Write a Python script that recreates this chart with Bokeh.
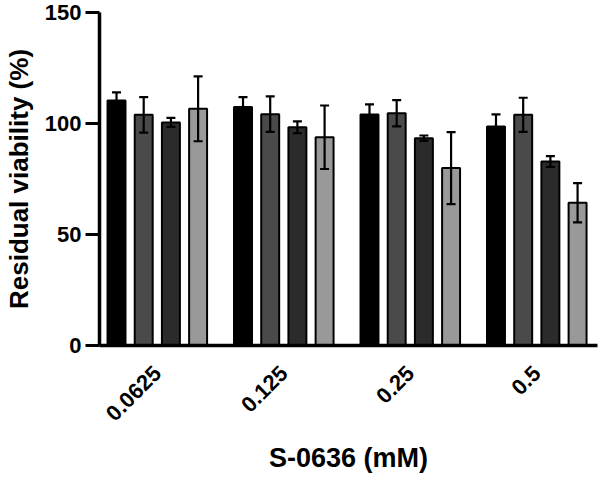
import math
from bokeh.plotting import figure
from bokeh.models import Range1d, ColumnDataSource, Whisker, TeeHead, FixedTicker
from bokeh.embed import file_html
from bokeh.resources import INLINE

categories = ["0.0625", "0.125", "0.25", "0.5"]
series_names = ["s1", "s2", "s3", "s4"]
means = [
    [110.4, 107.4, 104.1, 98.6],
    [103.9, 104.2, 104.6, 103.9],
    [100.5, 98.3, 93.4, 82.9],
    [106.6, 93.8, 79.9, 64.3],
]
errors = [
    [3.6, 4.5, 4.5, 5.5],
    [8.0, 8.0, 5.9, 7.7],
    [2.0, 2.7, 1.2, 2.4],
    [14.6, 14.3, 16.2, 8.8],
]
colors = ["#000000", "#4a4a4a", "#2b2b2b", "#999999"]
y_ticks = [0, 50, 100, 150]

FONT = "Liberation Sans"

p = figure(width=600, height=479, output_backend="svg", toolbar_location=None,
           x_range=Range1d(-0.457, 3.48), y_range=Range1d(0, 150),
           min_border_left=97, min_border_right=3, min_border_top=12, min_border_bottom=134)
p.outline_line_color = None
p.grid.grid_line_color = None
p.background_fill_color = "white"
p.border_fill_color = "white"

step = 0.215
width = 0.142
for j in range(4):
    xs = [i + (j - 1.5) * step for i in range(len(categories))]
    ys = means[j]
    errs = errors[j]
    src = ColumnDataSource(dict(x=xs, top=ys,
                                upper=[y + e for y, e in zip(ys, errs)],
                                lower=[y - e for y, e in zip(ys, errs)]))
    p.vbar(x="x", top="top", bottom=0, width=width, source=src,
           fill_color=colors[j], line_color="black", line_width=2)
    w = Whisker(base="x", upper="upper", lower="lower", source=src, level="overlay",
                line_color="black", line_width=2.2,
                upper_head=TeeHead(size=9, line_width=2.2, line_color="black"),
                lower_head=TeeHead(size=9, line_width=2.2, line_color="black"))
    p.add_layout(w)

# axes
p.xaxis.ticker = FixedTicker(ticks=list(range(len(categories))))
p.xaxis.major_label_overrides = {i: c for i, c in enumerate(categories)}
p.xaxis.major_label_orientation = math.pi / 4
p.xaxis.major_tick_line_color = None
p.xaxis.minor_tick_line_color = None
p.xaxis.axis_line_width = 3.5
p.xaxis.axis_line_color = "black"
p.xaxis.major_label_text_font = FONT
p.xaxis.major_label_text_font_style = "bold"
p.xaxis.major_label_text_font_size = "22px"
p.xaxis.major_label_text_color = "black"
p.xaxis.major_label_standoff = 18
p.xaxis.axis_label = "S-0636 (mM)"
p.xaxis.axis_label_text_font = FONT
p.xaxis.axis_label_text_font_style = "bold"
p.xaxis.axis_label_text_font_size = "27px"
p.xaxis.axis_label_text_color = "black"
p.xaxis.axis_label_standoff = 12

p.yaxis.ticker = FixedTicker(ticks=y_ticks)
p.yaxis.major_tick_out = 14
p.yaxis.major_tick_in = 0
p.yaxis.major_tick_line_width = 3
p.yaxis.minor_tick_line_color = None
p.yaxis.axis_line_width = 3.5
p.yaxis.axis_line_color = "black"
p.yaxis.major_label_text_font = FONT
p.yaxis.major_label_text_font_style = "bold"
p.yaxis.major_label_text_font_size = "22px"
p.yaxis.major_label_text_color = "black"
p.yaxis.major_label_standoff = 4
p.yaxis.axis_label = "Residual viability (%)"
p.yaxis.axis_label_text_font = FONT
p.yaxis.axis_label_text_font_style = "bold"
p.yaxis.axis_label_text_font_size = "26px"
p.yaxis.axis_label_text_color = "black"
p.yaxis.axis_label_standoff = 8

open("out.html", "w").write(file_html(p, INLINE))
